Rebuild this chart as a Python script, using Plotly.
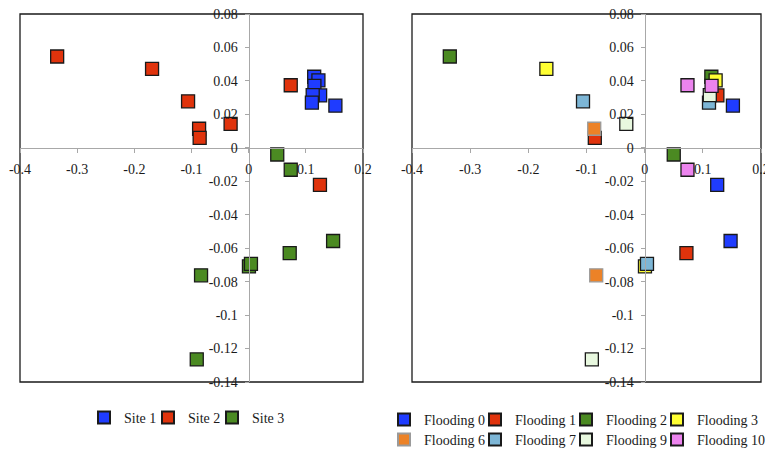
import plotly.graph_objects as go

# ---- data ----
pc1 = [0.1146, 0.1220, 0.1150, 0.1250, 0.1120, 0.1106, 0.1517,
       -0.3350, -0.1690, -0.1060, -0.0867, -0.0857, -0.0316, 0.0736, 0.1247,
       0.0500, 0.0736, 0.1477, 0.0718, 0.0005, 0.0040, -0.0833, -0.0908]
pc2 = [0.0425, 0.0403, 0.0370, 0.0313, 0.0315, 0.0270, 0.0252,
       0.0546, 0.0472, 0.0278, 0.0114, 0.0059, 0.0143, 0.0374, -0.0221,
       -0.0040, -0.0131, -0.0557, -0.0629, -0.0709, -0.0694, -0.0762, -0.1265]
site = ["Site 1"] * 7 + ["Site 2"] * 8 + ["Site 3"] * 8
flooding = [2, 3, 10, 1, 9, 7, 0,
            2, 3, 7, 6, 1, 9, 10, 0,
            2, 10, 0, 1, 3, 7, 6, 9]

site_names = ["Site 1", "Site 2", "Site 3"]
site_colors = ["#1f3cff", "#e0330c", "#4b8a22"]
flood_levels = [0, 1, 2, 3, 6, 7, 9, 10]
flood_colors = ["#1f3cff", "#e0330c", "#4b8a22", "#ffff33",
                "#ec8227", "#7db6d6", "#e8f8df", "#ec84ee"]

x_ticks = [-0.4, -0.3, -0.2, -0.1, 0, 0.1, 0.2]
x_ticktext = ["-0.4", "-0.3", "-0.2", "-0.1", "0", "0.1", "0.2"]
y_ticks = [-0.14, -0.12, -0.1, -0.08, -0.06, -0.04, -0.02, 0, 0.02, 0.04, 0.06, 0.08]
y_ticktext = ["-0.14", "-0.12", "-0.1", "-0.08", "-0.06", "-0.04", "-0.02",
              "0", "0.02", "0.04", "0.06", "0.08"]

X_RANGE = [-0.4, 0.2]
Y_RANGE = [-0.14, 0.08]

FONT = "Liberation Serif, Times New Roman, serif"
FS = 14
OFF = 8                      # page body margin of the browser
W, H = 773 - OFF, 460 - OFF  # figure size so that it fits the window

# legend entry positions in window pixels (symbol centre x, row centre y)
left_leg_x = [104, 168, 232]
left_leg_y = [418, 418, 418]
right_leg_x = [404, 495, 586, 677, 404, 495, 586, 677]
right_leg_y = [420, 420, 420, 420, 440, 440, 440, 440]
SYM_OFFSET = 20  # symbol centre offset inside a legend box

fig = go.Figure()
legends = {}
k = 0


def leg_name(i):
    return "legend" if i == 0 else f"legend{i + 1}"


def leg_layout(px, py):
    return dict(orientation="h", x=(px - OFF - SYM_OFFSET) / W, xanchor="left",
                y=1 - (py - OFF) / H, yanchor="middle", itemsizing="constant",
                font=dict(family=FONT, size=FS, color="#1a1a1a"),
                bgcolor="rgba(0,0,0,0)", borderwidth=0)


# left panel: by site
for name, col, px, py in zip(site_names, site_colors, left_leg_x, left_leg_y):
    xs = [a for a, s in zip(pc1, site) if s == name]
    ys = [b for b, s in zip(pc2, site) if s == name]
    ln = leg_name(k)
    legends[ln] = leg_layout(px, py)
    k += 1
    fig.add_trace(go.Scatter(
        x=xs, y=ys, mode="markers", name=name, xaxis="x", yaxis="y",
        legend=ln,
        marker=dict(symbol="square", size=13, color=col,
                    line=dict(color="#1a1a1a", width=1.3))))

# right panel: by flooding
for lvl, col, px, py in zip(flood_levels, flood_colors, right_leg_x, right_leg_y):
    xs = [a for a, f in zip(pc1, flooding) if f == lvl]
    ys = [b for b, f in zip(pc2, flooding) if f == lvl]
    border = "#9a9a9a" if lvl == 6 else "#1a1a1a"
    ln = leg_name(k)
    legends[ln] = leg_layout(px, py)
    k += 1
    fig.add_trace(go.Scatter(
        x=xs, y=ys, mode="markers", name=f"Flooding {lvl}",
        xaxis="x2", yaxis="y2", legend=ln,
        marker=dict(symbol="square", size=13, color=col,
                    line=dict(color=border, width=1.3))))

# panel boxes in window pixels -> paper fractions
BOX_TOP, BOX_BOTTOM = 14, 382
LEFT_BOX = (20, 363)
RIGHT_BOX = (412, 761)
yd = [1 - (BOX_BOTTOM - OFF) / H, 1 - (BOX_TOP - OFF) / H]
xd_left = [(LEFT_BOX[0] - OFF) / W, (LEFT_BOX[1] - OFF) / W]
xd_right = [(RIGHT_BOX[0] - OFF) / W, (RIGHT_BOX[1] - OFF) / W]


def cross(dom, rng):
    f = (0 - rng[0]) / (rng[1] - rng[0])
    return dom[0] + f * (dom[1] - dom[0])


axis_common = dict(showgrid=False, zeroline=False, showline=True,
                   linecolor="#a8a8a8", linewidth=1, ticks="outside",
                   ticklen=4, tickcolor="#a8a8a8", automargin=False,
                   ticklabeloverflow="allow", ticklabelstandoff=4,
                   tickfont=dict(family=FONT, size=FS, color="#1a1a1a"),
                   anchor="free", fixedrange=True)

fig.update_layout(
    width=W, height=H, margin=dict(l=0, r=0, t=0, b=0, autoexpand=False),
    paper_bgcolor="white", plot_bgcolor="white",
    font=dict(family=FONT, size=FS, color="#1a1a1a"),
    xaxis=dict(domain=xd_left, range=X_RANGE, tickvals=x_ticks, ticktext=x_ticktext,
               position=cross(yd, Y_RANGE), **axis_common),
    yaxis=dict(domain=yd, range=Y_RANGE, tickvals=y_ticks, ticktext=y_ticktext,
               position=cross(xd_left, X_RANGE), **axis_common),
    xaxis2=dict(domain=xd_right, range=X_RANGE, tickvals=x_ticks, ticktext=x_ticktext,
                position=cross(yd, Y_RANGE), **axis_common),
    yaxis2=dict(domain=yd, range=Y_RANGE, tickvals=y_ticks, ticktext=y_ticktext,
                position=cross(xd_right, X_RANGE), **axis_common),
    showlegend=True,
    shapes=[
        dict(type="rect", xref="x domain", yref="y domain", x0=0, x1=1, y0=0, y1=1,
             line=dict(color="#1a1a1a", width=1.3), layer="below"),
        dict(type="rect", xref="x2 domain", yref="y2 domain", x0=0, x1=1, y0=0, y1=1,
             line=dict(color="#1a1a1a", width=1.3), layer="below"),
    ],
    **legends,
)

fig.write_html("out.html")
